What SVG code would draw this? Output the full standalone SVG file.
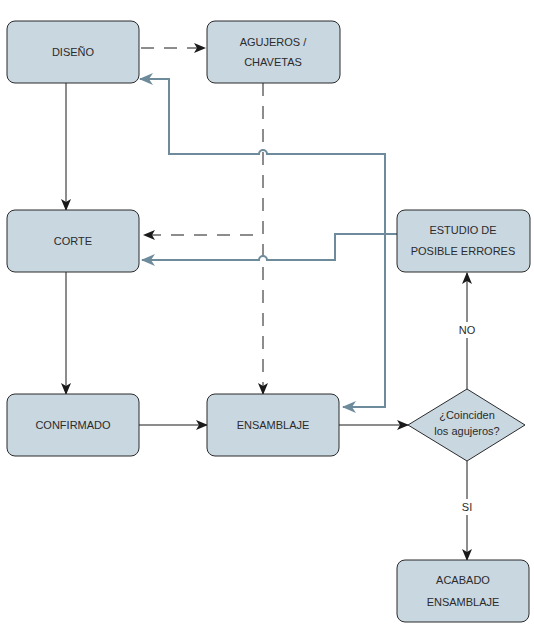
<svg xmlns="http://www.w3.org/2000/svg" width="534" height="636" viewBox="0 0 534 636">
<defs>
<style>
.box{fill:#c9d7e0;stroke:#2b2b2b;stroke-width:1}
.t{font-family:"Liberation Sans",Arial,sans-serif;font-size:11px;fill:#2b2b2b;text-anchor:middle;dominant-baseline:central}
.k{fill:none;stroke:#1a1a1a;stroke-width:1}
.d{fill:none;stroke:#1a1a1a;stroke-width:1;stroke-dasharray:13 10}
.b{fill:none;stroke:#6e8b9c;stroke-width:2}
.lbl{fill:#ffffff}
</style>
<marker id="ak" viewBox="0 0 12 10" refX="11" refY="5" markerWidth="12" markerHeight="10" markerUnits="userSpaceOnUse" orient="auto">
<path d="M0,0 L12,5 L0,10 L3,5 z" fill="#1a1a1a"/>
</marker>
<marker id="ab" viewBox="0 0 14 12" refX="13" refY="6" markerWidth="14" markerHeight="12" markerUnits="userSpaceOnUse" orient="auto-start-reverse">
<path d="M0,0 L14,6 L0,12 L4,6 z" fill="#6e8b9c"/>
</marker>
</defs>
<rect width="534" height="636" fill="#ffffff"/>
<g id="connectors">
<path class="d" d="M141,48 H205" marker-end="url(#ak)"/>
<path class="k" d="M66,83 V210" marker-end="url(#ak)"/>
<path class="k" d="M66,272 V394" marker-end="url(#ak)"/>
<path class="k" d="M139,425 H207" marker-end="url(#ak)"/>
<path class="d" d="M263,83 V394" marker-end="url(#ak)"/>
<path class="d" d="M253,235 H144" marker-end="url(#ak)"/>
<path class="k" d="M339,425 H408" marker-end="url(#ak)"/>
<path class="k" d="M467,389 V273" marker-end="url(#ak)"/>
<path class="k" d="M467,461 V560" marker-end="url(#ak)"/>
<path class="b" d="M343,407 H385 V154 H267 A4,4 0 0 0 259,154 H169 V79 H140" marker-start="url(#ab)" marker-end="url(#ab)"/>
<path class="b" d="M397,234 H335 V260 H267 A4,4 0 0 0 259,260 H142" marker-end="url(#ab)"/>
<rect class="lbl" x="456" y="322" width="22" height="16"/>
<text class="t" x="467" y="330">NO</text>
<rect class="lbl" x="459" y="499" width="16" height="16"/>
<text class="t" x="467" y="507">SI</text>
</g>
<g id="diseno">
<rect class="box" x="7" y="21" width="132" height="62" rx="8"/>
<text class="t" x="73" y="52">DISEÑO</text>
</g>
<g id="agujeros">
<rect class="box" x="207" y="21" width="133" height="62" rx="8"/>
<text class="t" x="273" y="42">AGUJEROS /</text>
<text class="t" x="273" y="62">CHAVETAS</text>
</g>
<g id="corte">
<rect class="box" x="7" y="210" width="132" height="62" rx="8"/>
<text class="t" x="73" y="241">CORTE</text>
</g>
<g id="estudio">
<rect class="box" x="397" y="210" width="133" height="62" rx="8"/>
<text class="t" x="463" y="230">ESTUDIO DE</text>
<text class="t" x="463" y="251">POSIBLE ERRORES</text>
</g>
<g id="confirmado">
<rect class="box" x="7" y="394" width="132" height="62" rx="8"/>
<text class="t" x="73" y="425">CONFIRMADO</text>
</g>
<g id="ensamblaje">
<rect class="box" x="207" y="394" width="132" height="62" rx="8"/>
<text class="t" x="273" y="425">ENSAMBLAJE</text>
</g>
<g id="coinciden">
<polygon class="box" points="467,389 525,425 467,461 408,425"/>
<text class="t" x="467" y="415">¿Coinciden</text>
<text class="t" x="467" y="431">los agujeros?</text>
</g>
<g id="acabado">
<rect class="box" x="397" y="560" width="132" height="62" rx="8"/>
<text class="t" x="463" y="580">ACABADO</text>
<text class="t" x="463" y="602">ENSAMBLAJE</text>
</g>
</svg>
